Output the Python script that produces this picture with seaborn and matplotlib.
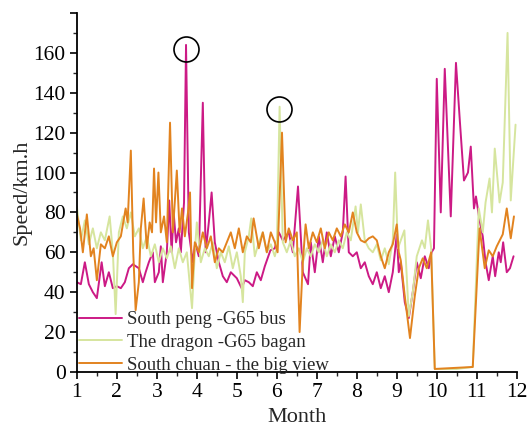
import numpy as np
import pandas as pd
import matplotlib
matplotlib.use("Agg")
import matplotlib.pyplot as plt
import seaborn as sns

# ---- data ----
peng_x = [1.0, 1.1, 1.2, 1.3, 1.4, 1.5, 1.62, 1.7, 1.8, 1.9, 2.0, 2.1, 2.2, 2.3, 2.4, 2.55, 2.65,
          2.72, 2.8, 2.9, 2.95, 3.05, 3.1, 3.15, 3.25, 3.31, 3.37, 3.42, 3.48, 3.55, 3.6, 3.68,
          3.73, 3.8, 3.9, 3.96, 4.05, 4.15, 4.22, 4.3, 4.37, 4.45, 4.55, 4.65, 4.75, 4.85, 5.0,
          5.12, 5.2, 5.3, 5.4, 5.5, 5.6, 5.7, 5.84, 5.95, 6.05, 6.15, 6.3, 6.4, 6.53, 6.65, 6.78,
          6.85, 6.95, 7.05, 7.15, 7.25, 7.35, 7.45, 7.55, 7.65, 7.72, 7.8, 7.9, 8.0, 8.1, 8.2,
          8.3, 8.4, 8.5, 8.6, 8.7, 8.8, 8.9, 9.0, 9.05, 9.1, 9.2, 9.3, 9.4, 9.5, 9.6, 9.7, 9.8,
          9.87, 9.93, 10.0, 10.1, 10.2, 10.35, 10.48, 10.58, 10.68, 10.78, 10.85, 10.93, 10.98,
          11.07, 11.15, 11.22, 11.3, 11.4, 11.46, 11.55, 11.6, 11.66, 11.75, 11.83, 11.92]
peng_y = [45, 44, 55, 44, 40, 37, 55, 43, 50, 42, 43, 42, 45, 52, 54, 52, 45,
          50, 55, 60, 45, 50, 63, 45, 60, 86, 60, 80, 65, 72, 60, 85,
          164, 70, 55, 65, 58, 135, 60, 75, 90, 65, 55, 48, 45, 50, 47,
          42, 46, 45, 43, 50, 46, 53, 61, 62, 70, 66, 70, 60, 93, 50, 44,
          65, 50, 68, 55, 70, 58, 68, 60, 70, 98, 60, 58, 60, 52, 55,
          48, 44, 50, 42, 48, 40, 50, 69, 50, 55, 35, 27, 40, 55, 47, 58, 52,
          60, 62, 147, 80, 152, 78, 155, 125, 96, 100, 113, 82, 88,
          76, 68, 55, 46, 58, 48, 60, 55, 65, 50, 52, 58]

dragon_x = [1.0, 1.1, 1.2, 1.3, 1.4, 1.5, 1.6, 1.7, 1.82, 1.9, 1.97, 2.05, 2.15, 2.25, 2.35,
            2.45, 2.55, 2.65, 2.75, 2.85, 2.95, 3.05, 3.15, 3.25, 3.35, 3.45, 3.55, 3.65, 3.75,
            3.88, 3.95, 4.0, 4.1, 4.2, 4.3, 4.4, 4.5, 4.6, 4.7, 4.8, 4.9, 5.0, 5.1, 5.15, 5.2,
            5.3, 5.36, 5.45, 5.55, 5.65, 5.75, 5.85, 5.95, 6.0, 6.07, 6.15, 6.25, 6.35, 6.45,
            6.55, 6.65, 6.75, 6.85, 6.95, 7.05, 7.15, 7.25, 7.35, 7.45, 7.55, 7.65, 7.75, 7.85,
            7.97, 8.03, 8.1, 8.2, 8.3, 8.4, 8.5, 8.6, 8.7, 8.8, 8.9, 8.96, 9.03, 9.1, 9.19, 9.3,
            9.4, 9.5, 9.63, 9.7, 9.78, 9.86, 9.95, 10.5, 10.9, 11.05, 11.15, 11.22, 11.32, 11.38,
            11.45, 11.57, 11.65, 11.77, 11.85, 11.97]
dragon_y = [83, 66, 76, 64, 72, 62, 70, 66, 78, 60, 29, 70, 78, 72, 80,
            68, 72, 62, 68, 58, 64, 55, 62, 57, 63, 52, 62, 55, 60,
            32, 60, 75, 55, 62, 58, 65, 52, 60, 55, 63, 52, 60, 48, 35, 60,
            68, 77, 58, 65, 70, 60, 64, 58, 62, 133, 65, 60, 66, 58,
            62, 55, 62, 58, 64, 60, 66, 58, 64, 60, 66, 62, 70, 66,
            83, 70, 84, 66, 62, 60, 64, 56, 62, 54, 66, 100, 62, 66, 71, 28,
            40, 58, 66, 62, 76, 62, 1.5, 1.5, 2.5, 82, 70, 85, 97, 80,
            112, 85, 95, 170, 86, 124]

chuan_x = [1.0, 1.08, 1.15, 1.25, 1.35, 1.42, 1.5, 1.6, 1.7, 1.8, 1.9, 2.0, 2.1, 2.22, 2.27,
           2.35, 2.41, 2.47, 2.55, 2.6, 2.67, 2.75, 2.82, 2.88, 2.93, 2.98, 3.04, 3.1, 3.18,
           3.25, 3.33, 3.4, 3.5, 3.57, 3.63, 3.7, 3.78, 3.83, 3.88, 3.95, 4.05, 4.15, 4.25, 4.35,
           4.45, 4.55, 4.65, 4.75, 4.85, 4.95, 5.05, 5.15, 5.25, 5.35, 5.42, 5.55, 5.65, 5.75,
           5.85, 5.95, 6.02, 6.13, 6.22, 6.3, 6.4, 6.5, 6.57, 6.65, 6.72, 6.8, 6.9, 7.0, 7.1,
           7.2, 7.3, 7.4, 7.5, 7.6, 7.7, 7.8, 7.9, 8.0, 8.1, 8.2, 8.3, 8.4, 8.5, 8.6, 8.7, 8.8,
           8.9, 9.0, 9.05, 9.1, 9.2, 9.33, 9.45, 9.55, 9.65, 9.75, 9.86, 9.95, 10.9, 11.07, 11.2,
           11.3, 11.4, 11.5, 11.65, 11.75, 11.85, 11.93]
chuan_y = [79, 72, 60, 79, 58, 62, 46, 64, 62, 68, 58, 65, 68, 82, 75,
           111, 60, 31, 45, 72, 87, 62, 75, 70, 102, 75, 100, 70, 78,
           65, 125, 70, 101, 70, 82, 68, 80, 90, 42, 65, 60, 70, 62, 68,
           55, 62, 60, 65, 70, 62, 72, 60, 68, 65, 77, 62, 70, 60,
           70, 65, 60, 120, 65, 72, 66, 70, 20, 55, 74, 62, 70, 65, 72,
           62, 70, 66, 72, 68, 74, 70, 80, 70, 66, 65, 67, 68, 66, 58, 52, 60,
           64, 74, 60, 56, 38, 17, 38, 52, 57, 52, 60, 1.5, 2.5, 72, 52,
           61, 58, 63, 69, 82, 67, 78]

labels = ["South peng -G65 bus", "The dragon -G65 bagan", "South chuan - the big view"]
colors = ["#CC1A85", "#D6E59E", "#E2831F"]
circle_x = [3.73, 6.06]
circle_y = [162, 132]

df = pd.concat([
    pd.DataFrame({"Month": peng_x, "Speed": peng_y, "Route": labels[0]}),
    pd.DataFrame({"Month": dragon_x, "Speed": dragon_y, "Route": labels[1]}),
    pd.DataFrame({"Month": chuan_x, "Speed": chuan_y, "Route": labels[2]}),
], ignore_index=True)

sns.set_style("ticks")
plt.rcParams["font.family"] = ["Liberation Serif", "DejaVu Serif"]

fig = plt.figure(figsize=(5.30, 4.33), dpi=100)
ax = fig.add_axes([0.145, 0.141, 0.830, 0.829])

sns.lineplot(data=df, x="Month", y="Speed", hue="Route", hue_order=labels,
             palette=colors, sort=False, estimator=None, linewidth=1.4, ax=ax)

ax.plot(circle_x, circle_y, linestyle="none", marker="o", markersize=18,
        markerfacecolor="none", markeredgecolor="black", markeredgewidth=1.2)

ax.set_xlim(1, 12)
ax.set_ylim(0, 180)
ax.set_xticks(range(1, 13))
ax.set_xticks(np.arange(1.5, 12, 1.0), minor=True)
ax.set_yticks(range(0, 181, 20))
ax.set_yticklabels([str(v) for v in range(0, 161, 20)] + [""])
ax.set_yticks(range(10, 180, 20), minor=True)
ax.tick_params(axis="both", which="major", direction="out", length=5, width=1.2,
               labelsize=15.5, colors="black", pad=3)
ax.tick_params(axis="both", which="minor", direction="out", length=3, width=1.0)
for s in ["left", "bottom"]:
    ax.spines[s].set_linewidth(1.3)
    ax.spines[s].set_color("black")
sns.despine(ax=ax)

ax.set_xlabel("Month", fontsize=16, labelpad=4)
ax.set_ylabel("Speed/km.h", fontsize=16, labelpad=1)

leg = ax.legend(loc="lower left", frameon=False, fontsize=13.5, handlelength=2.3,
                handletextpad=0.3, labelspacing=0.3, borderaxespad=0.0,
                borderpad=0.1, bbox_to_anchor=(0.0, -0.01))

fig.savefig("out.png", dpi=100)
